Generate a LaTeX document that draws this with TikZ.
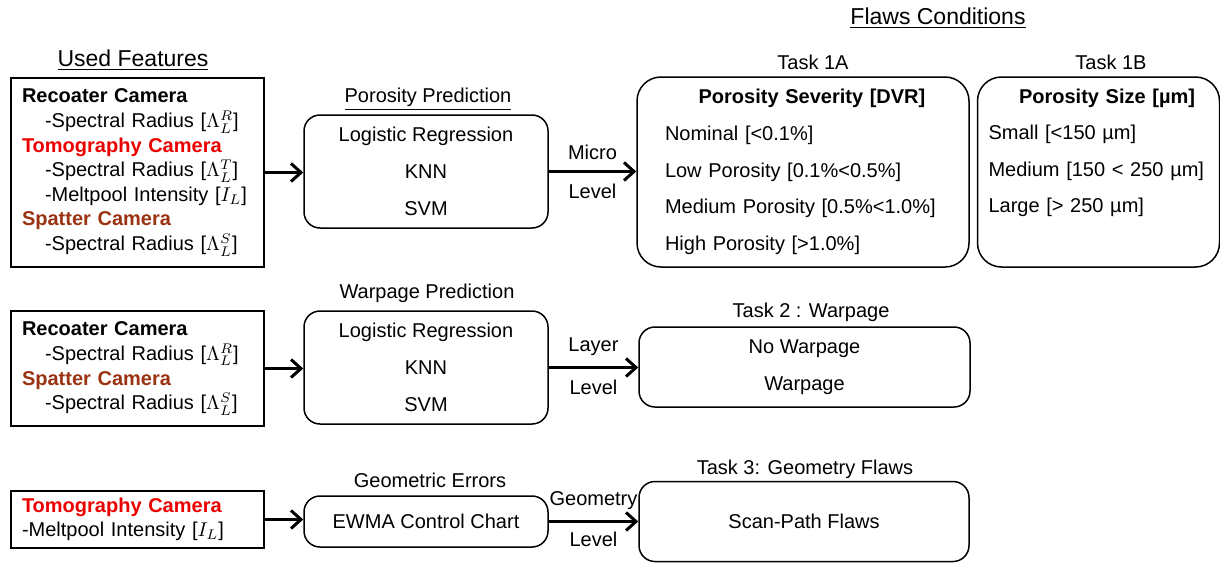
\documentclass[tikz,border=0pt]{standalone}
\usepackage{fontspec}
\setmainfont{Liberation Sans}
\usetikzlibrary{arrows.meta,positioning}

\definecolor{tomored}{RGB}{235,0,0}
\definecolor{spatterbrown}{RGB}{153,51,17}

\tikzset{
  featbox/.style={draw, line width=0.75pt, minimum width=126.5pt, text width=115.5pt,
    inner xsep=5.5pt, align=left, font=\fontsize{10}{12.3}\selectfont},
  modelbox/.style={draw, line width=0.75pt, rounded corners=8pt, minimum width=122pt,
    align=center, font=\fontsize{10}{18.5}\selectfont},
  taskbox/.style={draw, line width=0.75pt, rounded corners=12pt,
    font=\fontsize{10}{18.3}\selectfont},
  boxtitle/.style={font=\fontsize{10}{12}\selectfont},
  heading/.style={font=\fontsize{11.5}{14}\selectfont},
  levellabel/.style={font=\fontsize{10}{12}\selectfont},
  flowarrow/.style={-{Straight Barb[length=5pt,width=9pt]}, line width=1.5pt}
}
\newcommand{\featitem}{\hspace*{11.5pt}}

\begin{document}
\begin{tikzpicture}[x=0.5pt, y=-0.5pt]
  \useasboundingbox (0,0) rectangle (1220,562);

  % headings
  \node[heading] (usedfeat) at (133,60) {\underline{Used Features}};
  \node[heading] (flawcond) at (938,18) {\underline{Flaws Conditions}};

  % Row 1: porosity
  \node[featbox, minimum height=94.5pt] (feat1) at (137.5,172.5)
    {{\bfseries Recoater Camera}\\
     \featitem-Spectral Radius [$\Lambda_L^R$]\\
     {\bfseries\color{tomored}Tomography Camera}\\
     \featitem-Spectral Radius [$\Lambda_L^T$]\\
     \featitem-Meltpool Intensity [$I_L$]\\
     {\bfseries\color{spatterbrown}Spatter Camera}\\
     \featitem-Spectral Radius [$\Lambda_L^S$]};
  \node[boxtitle] (portitle) at (428,99) {\underline{Porosity Prediction}};
  \node[modelbox, minimum height=56.5pt] (model1) at (426,171.5)
    {Logistic Regression\\KNN\\SVM};
  \node[boxtitle] (task1atitle) at (813,62) {Task 1A};
  \node[taskbox, minimum width=166pt, minimum height=95pt, text width=138pt,
        inner xsep=14pt, align=left] (task1a) at (803,172)
    {\makebox[138pt]{\hspace{9pt}\bfseries Porosity Severity [DVR]}\\
     Nominal [<0.1\%]\\
     Low Porosity [0.1\%<0.5\%]\\
     Medium Porosity [0.5\%<1.0\%]\\
     High Porosity [>1.0\%]};
  \node[boxtitle] (task1btitle) at (1111,62) {Task 1B};
  \node[taskbox, minimum width=121pt, minimum height=95pt, text width=110pt,
        inner xsep=5.5pt, align=left] (task1b) at (1098.5,172)
    {\makebox[110pt]{\hspace{8.5pt}\bfseries Porosity Size [µm]}\\
     Small [<150 µm]\\
     Medium [150 < 250 µm]\\
     Large [> 250 µm]\\
     \rule[-3pt]{0pt}{3pt}};

  \draw[flowarrow] (feat1.east) -- (feat1.east -| model1.west);
  \draw[flowarrow] (model1.east) -- (model1.east -| task1a.west)
    node[midway, above=2pt, levellabel] (micro) {Micro}
    node[midway, below=2pt, levellabel] (microlvl) {Level};

  % Row 2: warpage
  \node[featbox, minimum height=57.5pt] (feat2) at (137.5,368.5)
    {{\bfseries Recoater Camera}\\
     \featitem-Spectral Radius [$\Lambda_L^R$]\\
     {\bfseries\color{spatterbrown}Spatter Camera}\\
     \featitem-Spectral Radius [$\Lambda_L^S$]};
  \node[boxtitle] (warptitle) at (427,293) {Warpage Prediction};
  \node[modelbox, minimum height=56.5pt] (model2) at (426,367.5)
    {Logistic Regression\\KNN\\SVM};
  \node[boxtitle] (task2title) at (811,312) {Task 2 : Warpage};
  \node[taskbox, rounded corners=8pt, minimum width=165.5pt, minimum height=40pt,
        align=center] (task2) at (804.5,367) {No Warpage\\Warpage};

  \draw[flowarrow] (feat2.east) -- (feat2.east -| model2.west);
  \draw[flowarrow] (model2.east) -- (model2.east -| task2.west)
    node[midway, above=2pt, levellabel] (layer) {Layer}
    node[midway, below=2pt, levellabel] (layerlvl) {Level};

  % Row 3: geometry
  \node[featbox, minimum height=28.5pt] (feat3) at (137.5,519.5)
    {{\bfseries\color{tomored}Tomography Camera}\\
     -Meltpool Intensity [$I_L$]};
  \node[boxtitle] (geotitle) at (430,480) {Geometric Errors};
  \node[modelbox, minimum height=25.5pt] (model3) at (426,521.5) {EWMA Control Chart};
  \node[boxtitle] (task3title) at (805,469) {Task 3: Geometry Flaws};
  \node[taskbox, rounded corners=8pt, minimum width=165pt, minimum height=40pt]
    (task3) at (804,521.5) {Scan-Path Flaws};

  \draw[flowarrow] (feat3.east) -- (feat3.east -| model3.west);
  \draw[flowarrow] (model3.east) -- (model3.east -| task3.west)
    node[midway, above=2pt, levellabel] (geom) {Geometry}
    node[midway, below=1pt, levellabel] (geomlvl) {Level};

\end{tikzpicture}
\end{document}
